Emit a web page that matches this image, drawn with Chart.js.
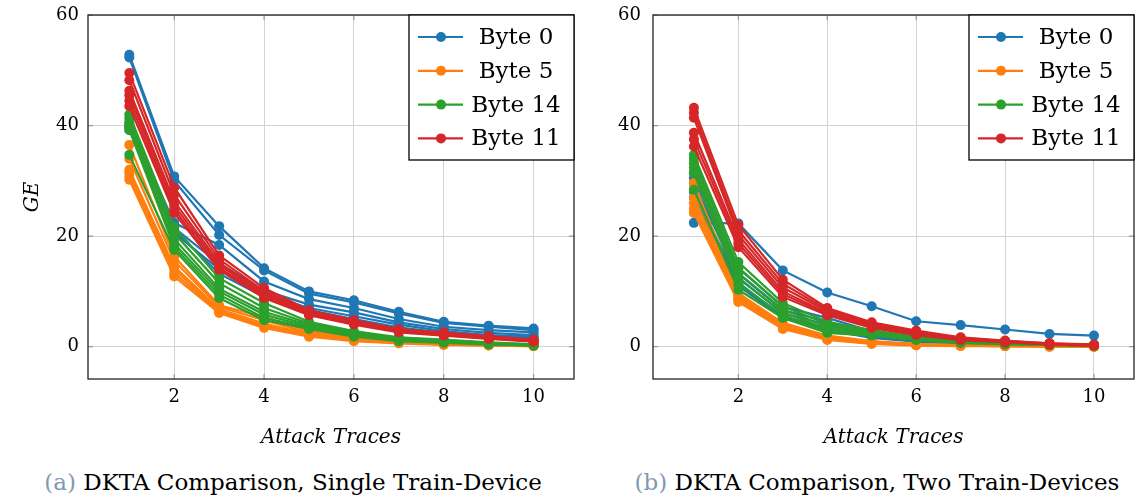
<!DOCTYPE html>
<html>
<head>
<meta charset="utf-8">
<script src="https://cdn.jsdelivr.net/npm/chart.js@4/dist/chart.umd.min.js"></script>
<style>
  body { margin: 0; background: #fff; width: 1139px; height: 500px; position: relative; overflow: hidden; font-family: "DejaVu Serif", serif; }
  .panel { position: absolute; top: 0; height: 460px; }
  #leftPanel { left: 0; width: 580px; }
  #rightPanel { left: 580px; width: 559px; }
  .caption { position: absolute; top: 467px; font-size: 23px; line-height: 30px; white-space: nowrap; transform: translateX(-50%); color: #000; }
  .caption .tag { color: #7f99b3; }
</style>
</head>
<body>
<div class="panel" id="leftPanel"><canvas id="singleChart" width="580" height="460"></canvas></div>
<div class="panel" id="rightPanel"><canvas id="twoChart" width="559" height="460"></canvas></div>
<div class="caption" style="left:293px"><span class="tag">(a)</span> DKTA Comparison, Single Train-Device</div>
<div class="caption" style="left:877px"><span class="tag">(b)</span> DKTA Comparison, Two Train-Devices</div>

<script>
/* =========================
   DATA
========================= */

const traces = [1, 2, 3, 4, 5, 6, 7, 8, 9, 10];
const byteLabels = ["Byte 0", "Byte 5", "Byte 14", "Byte 11"];
const xTicks = [2, 4, 6, 8, 10];
const yTicks = [0, 20, 40, 60];

// single train-device, one row per run
const singleByte0 = [
    [52.8, 30.8, 21.8, 14.2, 10.0, 8.4, 6.3, 4.5, 3.8, 3.3],
    [52.3, 30.0, 20.2, 13.8, 9.6, 8.0, 6.0, 4.3, 3.6, 3.0],
    [40.5, 22.4, 18.4, 11.8, 8.6, 7.0, 5.0, 3.6, 3.0, 2.6],
    [39.8, 21.5, 15.0, 10.2, 7.6, 6.2, 4.4, 3.2, 2.5, 2.1],
    [39.2, 20.6, 14.0, 9.5, 7.0, 5.5, 4.0, 2.8, 2.1, 1.8],
    [40.0, 21.0, 13.2, 9.0, 6.6, 5.0, 3.5, 2.5, 1.9, 1.5]
];
const singleByte5 = [
    [36.5, 16.3, 7.5, 5.4, 2.8, 1.8, 1.2, 0.8, 0.5, 0.3],
    [34.0, 15.5, 7.2, 4.8, 2.5, 1.5, 1.0, 0.6, 0.4, 0.2],
    [32.0, 14.5, 6.8, 4.2, 2.3, 1.3, 0.9, 0.5, 0.3, 0.2],
    [31.5, 14.0, 6.5, 3.8, 2.1, 1.2, 0.8, 0.5, 0.3, 0.1],
    [30.8, 13.3, 6.3, 3.6, 2.0, 1.1, 0.7, 0.4, 0.2, 0.1],
    [30.2, 12.7, 6.1, 3.4, 1.8, 1.0, 0.6, 0.3, 0.2, 0.1]
];
const singleByte14 = [
    [42.0, 21.7, 12.4, 7.9, 4.5, 2.8, 1.7, 1.3, 0.8, 0.4],
    [41.3, 20.5, 11.5, 7.0, 4.2, 2.6, 1.6, 1.2, 0.7, 0.4],
    [40.5, 19.5, 10.5, 6.3, 3.9, 2.4, 1.4, 1.0, 0.6, 0.3],
    [39.8, 18.6, 10.0, 5.8, 3.6, 2.2, 1.3, 0.9, 0.5, 0.3],
    [39.2, 18.0, 9.4, 5.2, 3.4, 2.0, 1.2, 0.8, 0.5, 0.2],
    [34.7, 17.5, 8.8, 4.8, 3.2, 1.8, 1.0, 0.7, 0.4, 0.2]
];
const singleByte11 = [
    [49.5, 28.8, 16.5, 10.6, 6.6, 4.8, 3.2, 2.6, 1.9, 1.3],
    [48.2, 27.5, 15.8, 10.1, 6.4, 4.6, 3.0, 2.4, 1.8, 1.2],
    [46.3, 26.3, 15.2, 9.7, 6.2, 4.4, 2.9, 2.3, 1.7, 1.1],
    [45.5, 25.5, 14.8, 9.4, 6.0, 4.3, 2.8, 2.2, 1.6, 1.0],
    [44.5, 24.8, 14.3, 9.1, 5.8, 4.1, 2.7, 2.1, 1.5, 1.0],
    [43.5, 24.2, 13.9, 8.8, 5.7, 4.0, 2.6, 2.0, 1.4, 0.9]
];

// two train-devices
const twoByte0 = [
    [22.4, 22.3, 13.8, 9.8, 7.3, 4.6, 3.9, 3.1, 2.3, 2.0],
    [31.5, 14.2, 7.2, 5.2, 2.8, 1.6, 1.0, 0.7, 0.4, 0.3],
    [30.5, 13.2, 6.6, 4.5, 2.4, 1.4, 0.9, 0.6, 0.4, 0.2],
    [29.5, 12.5, 6.0, 4.0, 2.1, 1.2, 0.8, 0.5, 0.3, 0.2],
    [28.0, 11.6, 5.5, 3.4, 1.8, 1.0, 0.6, 0.4, 0.2, 0.1],
    [27.0, 11.0, 5.2, 3.0, 1.6, 0.9, 0.5, 0.3, 0.2, 0.1]
];
const twoByte5 = [
    [29.6, 9.7, 4.3, 2.0, 1.0, 0.5, 0.3, 0.2, 0.1, 0.1],
    [28.5, 9.3, 4.0, 1.8, 0.9, 0.4, 0.3, 0.2, 0.1, 0.1],
    [27.0, 9.0, 3.8, 1.6, 0.8, 0.4, 0.2, 0.1, 0.1, 0.0],
    [26.0, 8.7, 3.6, 1.4, 0.7, 0.3, 0.2, 0.1, 0.1, 0.0],
    [25.0, 8.4, 3.4, 1.3, 0.6, 0.3, 0.2, 0.1, 0.0, 0.0],
    [24.2, 8.1, 3.2, 1.2, 0.5, 0.2, 0.1, 0.1, 0.0, 0.0]
];
const twoByte14 = [
    [34.7, 15.3, 7.9, 4.5, 3.0, 1.8, 1.0, 0.7, 0.5, 0.3],
    [34.0, 14.3, 7.3, 4.1, 2.8, 1.7, 0.9, 0.6, 0.4, 0.3],
    [33.2, 13.3, 6.7, 3.6, 2.6, 1.5, 0.9, 0.6, 0.4, 0.2],
    [32.4, 12.3, 6.2, 3.2, 2.4, 1.4, 0.8, 0.5, 0.3, 0.2],
    [31.4, 11.3, 5.7, 2.8, 2.2, 1.3, 0.7, 0.5, 0.3, 0.2],
    [28.4, 10.3, 5.2, 2.5, 2.0, 1.2, 0.7, 0.4, 0.3, 0.1]
];
const twoByte11 = [
    [43.2, 22.0, 12.1, 7.0, 4.4, 2.9, 1.7, 1.1, 0.6, 0.4],
    [42.3, 21.0, 11.4, 6.7, 4.2, 2.7, 1.6, 1.0, 0.6, 0.3],
    [41.4, 20.2, 10.7, 6.4, 4.0, 2.5, 1.5, 0.9, 0.5, 0.3],
    [38.7, 19.4, 10.0, 6.1, 3.8, 2.4, 1.4, 0.9, 0.5, 0.3],
    [37.5, 18.7, 9.5, 5.9, 3.6, 2.2, 1.3, 0.8, 0.4, 0.2],
    [36.2, 18.0, 9.0, 5.7, 3.4, 2.1, 1.2, 0.8, 0.4, 0.2]
];

/* =========================
   STYLE
========================= */

const byteColors = ["#1f77b4", "#ff7f0e", "#2ca02c", "#d62728"];
const serif = '"DejaVu Serif", serif';

/* =========================
   PLUGINS
========================= */

// full box around the plot plus small inner tick marks
const frame = {
    id: "frame",
    afterDraw(chart) {
        const { ctx, chartArea: a, scales } = chart;
        ctx.save();
        ctx.strokeStyle = "#9a9a9a";
        ctx.lineWidth = 1.2;
        ctx.beginPath();
        xTicks.forEach(v => {
            const px = scales.x.getPixelForValue(v);
            ctx.moveTo(px, a.bottom); ctx.lineTo(px, a.bottom - 5);
            ctx.moveTo(px, a.top); ctx.lineTo(px, a.top + 5);
        });
        yTicks.forEach(v => {
            const py = scales.y.getPixelForValue(v);
            ctx.moveTo(a.left, py); ctx.lineTo(a.left + 5, py);
            ctx.moveTo(a.right, py); ctx.lineTo(a.right - 5, py);
        });
        ctx.stroke();
        ctx.strokeStyle = "#222";
        ctx.lineWidth = 1.3;
        ctx.strokeRect(a.left, a.top, a.right - a.left, a.bottom - a.top);
        ctx.restore();
    }
};

// boxed legend in the top right corner
const cornerLegend = {
    id: "cornerLegend",
    afterDraw(chart) {
        const { ctx, chartArea: a } = chart;
        const w = 165, h = 145;
        const x0 = a.right - w, y0 = a.top;
        ctx.save();
        ctx.fillStyle = "#fff";
        ctx.fillRect(x0, y0, w, h);
        ctx.strokeStyle = "#000";
        ctx.lineWidth = 1.3;
        ctx.strokeRect(x0, y0, w, h);

        byteLabels.forEach((label, i) => {
            const y = y0 + 22 + i * 33.8;
            ctx.strokeStyle = byteColors[i];
            ctx.lineWidth = 2.2;
            ctx.beginPath();
            ctx.moveTo(x0 + 9, y);
            ctx.lineTo(x0 + 54, y);
            ctx.stroke();
            ctx.fillStyle = byteColors[i];
            ctx.beginPath();
            ctx.arc(x0 + 32, y, 5, 0, Math.PI * 2);
            ctx.fill();
            ctx.fillStyle = "#000";
            ctx.font = "23px " + serif;
            ctx.textAlign = "center";
            ctx.textBaseline = "middle";
            ctx.fillText(label, x0 + 107, y + 1);
        });
        ctx.restore();
    }
};

/* =========================
   CHARTS
========================= */

function buildDatasets(groups) {
    const sets = [];
    groups.forEach((runs, i) => {
        runs.forEach(run => {
            sets.push({
                label: byteLabels[i],
                data: traces.map((t, k) => ({ x: t, y: run[k] })),
                borderColor: byteColors[i],
                backgroundColor: byteColors[i],
                pointBackgroundColor: byteColors[i],
                pointBorderWidth: 0,
                pointRadius: 5,
                borderWidth: 2.2,
                tension: 0,
                // later bytes sit on top
                order: groups.length - 1 - i
            });
        });
    });
    return sets;
}

function makeChart(id, groups, yWidth, yTitle, yPad, rightPad) {
    new Chart(document.getElementById(id), {
        type: "line",
        data: { datasets: buildDatasets(groups) },
        options: {
            responsive: false,
            animation: false,
            layout: { padding: { top: 15, right: rightPad, bottom: 0, left: 0 } },
            plugins: {
                legend: { display: false },
                tooltip: { enabled: false }
            },
            scales: {
                x: {
                    type: "linear",
                    min: 0.08,
                    max: 10.9,
                    afterBuildTicks: s => { s.ticks = xTicks.map(v => ({ value: v })); },
                    afterFit: s => { s.height = 81; s.paddingLeft = 0; s.paddingRight = 0; },
                    grid: { color: "#d2d2d2", lineWidth: 1, drawTicks: false },
                    border: { display: false },
                    ticks: { color: "#000", padding: 8, font: { family: serif, size: 18 } },
                    title: {
                        display: true,
                        text: "Attack Traces",
                        color: "#000",
                        padding: { top: 0, bottom: 10 },
                        font: { family: serif, size: 20, style: "italic" }
                    }
                },
                y: {
                    min: -5.85,
                    max: 60,
                    afterBuildTicks: s => { s.ticks = yTicks.map(v => ({ value: v })); },
                    afterFit: s => { s.width = yWidth; s.paddingTop = 0; s.paddingBottom = 0; },
                    grid: { color: "#d2d2d2", lineWidth: 1, drawTicks: false },
                    border: { display: false },
                    ticks: { color: "#000", padding: yPad, font: { family: serif, size: 18 } },
                    title: {
                        display: yTitle !== "",
                        text: yTitle,
                        color: "#000",
                        padding: { top: 21, bottom: 0 },
                        font: { family: serif, size: 20, style: "italic" }
                    }
                }
            }
        },
        plugins: [frame, cornerLegend]
    });
}

makeChart("singleChart", [singleByte0, singleByte5, singleByte14, singleByte11], 88, "GE", 9, 6);
makeChart("twoChart", [twoByte0, twoByte5, twoByte14, twoByte11], 73, "", 12, 1);
</script>
</body>
</html>
